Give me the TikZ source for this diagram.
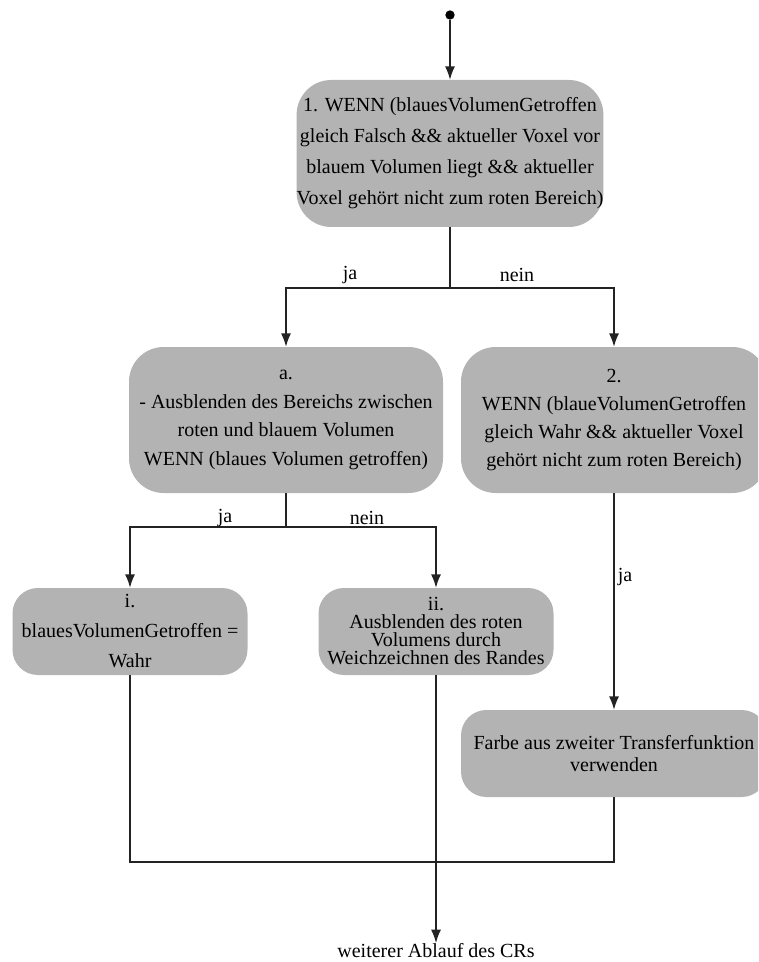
\documentclass[tikz,border=0pt]{standalone}
\usepackage{fontspec}
\setmainfont{Liberation Serif}
\usetikzlibrary{arrows.meta}
\definecolor{boxgray}{RGB}{179,179,179}
\definecolor{linegray}{RGB}{35,35,35}
\begin{document}
\begin{tikzpicture}[x=0.75pt,y=-0.75pt,
  box/.style={fill=boxgray, draw=none, rounded corners=26pt, align=center, inner sep=0pt,
    font=\fontsize{15}{23.25}\selectfont},
  conn/.style={draw=linegray, line width=1pt},
  arr/.style={conn,-{Latex[length=10pt,width=7.5pt]}},
  lbl/.style={font=\fontsize{15}{16}\selectfont, inner sep=0pt}]
\useasboundingbox (0,0) rectangle (758,962);
\clip (0,0) rectangle (758,962);

\node[circle, fill=black, inner sep=0pt, minimum size=7pt] (start) at (450,15) {};

\node[box, minimum width=229.5pt, minimum height=110.25pt] (b1) at (450,153.5)
  {1. WENN (blauesVolumenGetroffen\\gleich Falsch \&\& aktueller Voxel vor\\blauem Volumen liegt \&\& aktueller\\Voxel gehört nicht zum roten Bereich)};

\node[box, minimum width=235.5pt, minimum height=109.5pt,
  font=\fontsize{15}{21.5}\selectfont] (ba) at (286,420)
  {a.\\- Ausblenden des Bereichs zwischen\\roten und blauem Volumen\\WENN (blaues Volumen getroffen)};

\node[box, minimum width=229.5pt, minimum height=109.5pt,
  font=\fontsize{15}{21}\selectfont] (b2) at (614,420)
  {2.\\WENN (blaueVolumenGetroffen\\gleich Wahr \&\& aktueller Voxel\\gehört nicht zum roten Bereich)};

\node[box, minimum width=176.25pt, minimum height=65.25pt, rounded corners=19pt,
  font=\fontsize{15}{22.5}\selectfont] (bi) at (130,631.5)
  {i.\\blauesVolumenGetroffen =\\Wahr};

\node[box, minimum width=176.25pt, minimum height=65.25pt, rounded corners=19pt,
  font=\fontsize{15}{13.5}\selectfont] (bii) at (436,631.5)
  {ii.\\Ausblenden des roten\\Volumens durch\\Weichzeichnen des Randes};

\node[box, minimum width=229.5pt, minimum height=65.25pt, rounded corners=19pt,
  font=\fontsize{15}{17}\selectfont] (bf) at (614,753.5)
  {Farbe aus zweiter Transferfunktion\\verwenden};

\node[lbl, anchor=north] (end) at (436,943) {weiterer Ablauf des CRs};

\draw[arr] (start) -- (b1);
\coordinate (s1) at (450,288);
\draw[conn] (b1.south) -- (s1);
\draw[arr] (s1) -| (ba.north);
\draw[arr] (s1) -| (b2.north);
\node[lbl] (lja1) at (350,275) {ja};
\node[lbl] (lnein1) at (517,275) {nein};

\coordinate (s2) at (286,527);
\draw[conn] (ba.south) -- (s2);
\draw[arr] (s2) -| (bi.north);
\draw[arr] (s2) -| (bii.north);
\node[lbl] (lja2) at (225,518) {ja};
\node[lbl] (lnein2) at (367,518) {nein};

\draw[arr] (b2.south) -- (bf.north);
\node[lbl] (lja3) at (625,577) {ja};

\coordinate (j) at (130,862);
\draw[conn] (bi.south) -- (j) -- (bf.south |- j) -- (bf.south);
\draw[arr] (bii.south) -- (end.north);
\end{tikzpicture}
\end{document}
